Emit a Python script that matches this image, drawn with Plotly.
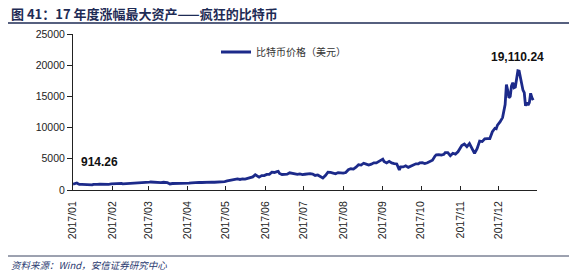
import plotly.graph_objects as go

# ---------------- data ----------------
dates = [
    "2017-01-01","2017-01-03","2017-01-04","2017-01-05","2017-01-06","2017-01-08","2017-01-10","2017-01-11",
    "2017-01-12","2017-01-14","2017-01-16","2017-01-17","2017-01-18","2017-01-20","2017-01-22","2017-01-24",
    "2017-01-26","2017-01-28","2017-01-29","2017-01-31",
    "2017-02-02","2017-02-04","2017-02-06","2017-02-08","2017-02-09","2017-02-11","2017-02-13","2017-02-15",
    "2017-02-17","2017-02-19","2017-02-21","2017-02-23","2017-02-24","2017-02-26","2017-02-28",
    "2017-03-02","2017-03-03","2017-03-05","2017-03-07","2017-03-08","2017-03-10","2017-03-11","2017-03-13",
    "2017-03-15","2017-03-16","2017-03-17","2017-03-18","2017-03-20","2017-03-22","2017-03-24","2017-03-26",
    "2017-03-28","2017-03-30","2017-03-31",
    "2017-04-02","2017-04-04","2017-04-06","2017-04-08","2017-04-10","2017-04-12","2017-04-14","2017-04-16",
    "2017-04-18","2017-04-20","2017-04-22","2017-04-24","2017-04-26","2017-04-28","2017-04-30",
    "2017-05-02","2017-05-04","2017-05-06","2017-05-08","2017-05-10","2017-05-12","2017-05-14","2017-05-16",
    "2017-05-18","2017-05-20","2017-05-22","2017-05-24","2017-05-25","2017-05-27","2017-05-29","2017-05-31",
    "2017-06-02","2017-06-04","2017-06-06","2017-06-08","2017-06-10","2017-06-11","2017-06-12","2017-06-14",
    "2017-06-16","2017-06-18","2017-06-20","2017-06-22","2017-06-24","2017-06-26","2017-06-28","2017-06-30",
    "2017-07-02","2017-07-04","2017-07-06","2017-07-08","2017-07-10","2017-07-12","2017-07-14","2017-07-16",
    "2017-07-18","2017-07-20","2017-07-22","2017-07-24","2017-07-26","2017-07-28","2017-07-30",
    "2017-08-01","2017-08-03","2017-08-05","2017-08-07","2017-08-09","2017-08-11","2017-08-13","2017-08-15",
    "2017-08-17","2017-08-19","2017-08-21","2017-08-23","2017-08-25","2017-08-27","2017-08-29","2017-08-31",
    "2017-09-01","2017-09-02","2017-09-04","2017-09-06","2017-09-08","2017-09-10","2017-09-12","2017-09-14",
    "2017-09-15","2017-09-17","2017-09-19","2017-09-21","2017-09-23","2017-09-25","2017-09-27","2017-09-29",
    "2017-09-30",
    "2017-10-02","2017-10-04","2017-10-06","2017-10-08","2017-10-10","2017-10-12","2017-10-13","2017-10-15",
    "2017-10-17","2017-10-19","2017-10-20","2017-10-22","2017-10-24","2017-10-26","2017-10-28","2017-10-30",
    "2017-10-31",
    "2017-11-02","2017-11-04","2017-11-06","2017-11-08","2017-11-10","2017-11-12","2017-11-14","2017-11-16",
    "2017-11-18","2017-11-20","2017-11-22","2017-11-24","2017-11-26","2017-11-28","2017-11-29","2017-11-30",
    "2017-12-02","2017-12-04","2017-12-06","2017-12-07","2017-12-08","2017-12-09","2017-12-10","2017-12-11",
    "2017-12-12","2017-12-13","2017-12-14","2017-12-15","2017-12-16","2017-12-17","2017-12-18","2017-12-19",
    "2017-12-20","2017-12-21","2017-12-22","2017-12-23","2017-12-24","2017-12-25","2017-12-26","2017-12-27",
    "2017-12-28",
]
prices = [
    914.26,1031,1130,1005,895,910,907,785,812,818,831,908,872,896,921,892,917,920,914,970,
    1008,1033,1024,1052,979,998,996,1009,1048,1055,1114,1168,1172,1152,1189,
    1259,1285,1269,1236,1151,1112,1181,1238,1254,1175,1070,964,1041,1050,937,971,1044,1038,1080,
    1093,1141,1192,1183,1207,1200,1185,1183,1210,1255,1245,1250,1290,1331,1348,
    1454,1520,1558,1700,1768,1691,1777,1737,1888,2041,2101,2448,2308,2065,2300,2303,
    2489,2519,2865,2811,2950,2990,2653,2484,2500,2530,2760,2710,2580,2500,2585,2480,
    2525,2610,2608,2565,2330,2405,2230,1930,2323,2870,2835,2757,2587,2790,2757,
    2710,2800,3250,3400,3360,3650,4060,4000,4290,4157,4010,4140,4350,4350,4580,4734,
    4950,4570,4350,4600,4330,4230,4170,3225,3700,3700,3880,3630,3780,3930,4200,4190,4340,
    4395,4230,4370,4610,4780,5440,5640,5680,5590,5710,6000,5980,5500,5890,5750,6130,6450,
    7130,7380,6960,7440,6600,5860,6630,7850,7760,8210,8230,8250,9330,9890,9820,10400,
    10900,11600,13700,16900,16000,14800,15000,16700,17200,16400,16500,17600,19110.24,19050,18000,17500,
    16000,15600,13500,14000,13600,14000,15500,14800,14400,
]
series_name = "比特币价格（美元）"
title_text = "图 41：17 年度涨幅最大资产——疯狂的比特币"
source_text = "资料来源：Wind，安信证券研究中心"
y_ticks = [0, 5000, 10000, 15000, 20000, 25000]
start_label = "914.26"
peak_label = "19,110.24"

# ---------------- layout helpers ----------------
W, H = 575, 277
ML, MR, MT, MB = 73, 38, 34, 87
PW, PH = W - ML - MR, H - MT - MB

def px_x(px):
    return (px - ML) / PW

def px_y(py):
    return (H - MB - py) / PH

LINE_COLOR = "#1c2a8a"
NAVY = "#1e2b55"
FONT = "Liberation Sans, Arial, Noto Sans CJK SC, sans-serif"
CJK = "Noto Sans CJK SC, Liberation Sans, sans-serif"

fig = go.Figure()
fig.add_trace(go.Scatter(
    x=dates, y=prices, mode="lines", name=series_name,
    line=dict(color=LINE_COLOR, width=2.8),
))

peak_i = prices.index(max(prices))

fig.update_layout(
    width=W, height=H,
    margin=dict(l=ML, r=MR, t=MT, b=MB, pad=0),
    paper_bgcolor="white", plot_bgcolor="white",
    font=dict(family=FONT, size=10.5, color="#222222"),
    showlegend=True,
    legend=dict(
        orientation="h", x=px_x(216), y=px_y(52), xanchor="left", yanchor="middle",
        font=dict(family=CJK, size=10, color="#333333"),
        bgcolor="rgba(0,0,0,0)", borderwidth=0,
    ),
    xaxis=dict(
        type="date", range=["2017-01-01", "2017-12-31"],
        tickformat="%Y/%m", dtick="M1", tick0="2017-01-01",
        tickangle=-90, ticks="inside", ticklen=4, tickcolor="#222222",
        ticklabelstandoff=6,
        showline=True, linecolor="#222222", linewidth=1,
        showgrid=False, zeroline=False,
        tickfont=dict(size=10.5, color="#222222"),
    ),
    yaxis=dict(
        range=[0, 25000], tickvals=y_ticks, ticktext=[str(v) for v in y_ticks],
        ticks="outside", ticklen=5, tickcolor="#222222",
        showline=True, linecolor="#222222", linewidth=1,
        showgrid=False, zeroline=False,
        tickfont=dict(size=10.5, color="#222222"),
    ),
    annotations=[
        dict(text="<b>" + title_text + "</b>", xref="paper", yref="paper",
             x=px_x(9), y=px_y(13), xanchor="left", yanchor="middle", showarrow=False,
             font=dict(family=CJK, size=13, color=NAVY)),
        dict(text="<i>" + source_text + "</i>", xref="paper", yref="paper",
             x=px_x(9), y=px_y(265), xanchor="left", yanchor="middle", showarrow=False,
             font=dict(family=CJK, size=9.5, color="#2a3a70")),
        dict(text="<b>" + start_label + "</b>", xref="x", yref="y",
             x="2017-01-22", y=4550, xanchor="center", yanchor="middle", showarrow=False,
             font=dict(size=12, color="#111111")),
        dict(text="<b>" + peak_label + "</b>", xref="x", yref="y",
             x=dates[peak_i], y=prices[peak_i], xanchor="center", yanchor="bottom",
             yshift=5, showarrow=False,
             font=dict(size=12, color="#111111")),
    ],
    shapes=[
        dict(type="line", xref="paper", yref="paper",
             x0=px_x(8), x1=px_x(569), y0=px_y(23), y1=px_y(23),
             line=dict(color=NAVY, width=1.5)),
        dict(type="line", xref="paper", yref="paper",
             x0=px_x(8), x1=px_x(569), y0=px_y(256), y1=px_y(256),
             line=dict(color="#3a4460", width=1)),
    ],
)

fig.write_html("out.html")
